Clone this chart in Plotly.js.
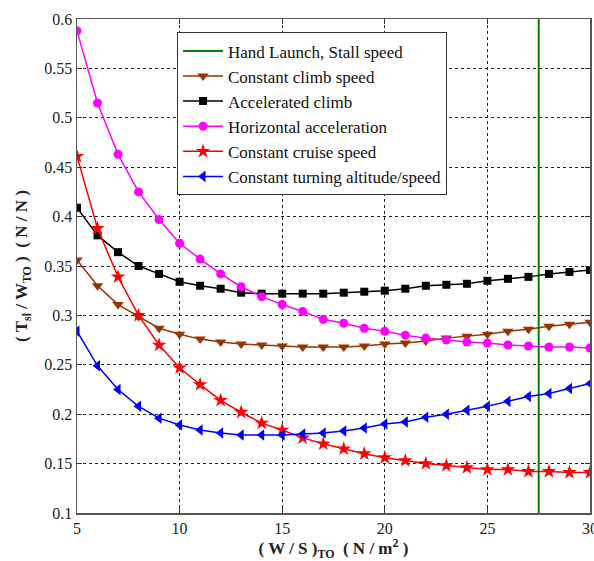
<!DOCTYPE html>
<html>
<head>
<meta charset="utf-8">
<script src="https://cdn.plot.ly/plotly-3.0.1.min.js"></script>
<style>html,body{margin:0;padding:0;background:#fff;}#chart{width:594px;height:561px;}</style>
</head>
<body>
<div id="chart"></div>
<script>
const wingLoading = [5,6,7,8,9,10,11,12,13,14,15,16,17,18,19,20,21,22,23,24,25,26,27,28,29,30];
const stallWingLoading = 27.5;
const stallRange = [0.1, 0.6];
const constantClimb = [0.356,0.330,0.311,0.299,0.287,0.281,0.276,0.273,0.271,0.270,0.269,0.268,0.268,0.268,0.269,0.271,0.272,0.274,0.277,0.279,0.281,0.284,0.286,0.289,0.291,0.293];
const acceleratedClimb = [0.409,0.381,0.364,0.350,0.342,0.334,0.330,0.327,0.323,0.322,0.322,0.322,0.322,0.323,0.324,0.325,0.327,0.330,0.331,0.332,0.335,0.337,0.339,0.342,0.344,0.346];
const horizontalAccel = [0.588,0.515,0.463,0.425,0.397,0.373,0.357,0.342,0.329,0.319,0.311,0.304,0.296,0.292,0.287,0.284,0.280,0.277,0.275,0.273,0.272,0.270,0.269,0.268,0.268,0.267];
const constantCruise = [0.461,0.388,0.339,0.300,0.270,0.247,0.230,0.214,0.202,0.191,0.184,0.176,0.170,0.165,0.160,0.156,0.153,0.150,0.148,0.146,0.144,0.144,0.142,0.142,0.141,0.141];
const constantTurning = [0.284,0.249,0.225,0.208,0.196,0.189,0.184,0.181,0.179,0.179,0.179,0.180,0.181,0.183,0.186,0.190,0.192,0.197,0.200,0.204,0.208,0.213,0.218,0.221,0.226,0.231];
const seriesNames = ["Hand Launch, Stall speed","Constant climb speed","Accelerated climb","Horizontal acceleration","Constant cruise speed","Constant turning altitude/speed"];
const xTicks = [5,10,15,20,25,30];
const yTicks = [0.1,0.15,0.2,0.25,0.3,0.35,0.4,0.45,0.5,0.55,0.6];
const yTickText = ['0.1','0.15','0.2','0.25','0.3','0.35','0.4','0.45','0.5','0.55','0.6'];

const lw = 1.5, ms = 9;
const traces = [
  {x:[stallWingLoading, stallWingLoading], y:stallRange, mode:'lines', name:seriesNames[0], line:{color:'#008000', width:2}},
  {x:wingLoading, y:constantClimb, mode:'lines+markers', name:seriesNames[1], line:{color:'#993300', width:lw}, marker:{symbol:'triangle-down', size:ms+1, color:'#993300'}},
  {x:wingLoading, y:acceleratedClimb, mode:'lines+markers', name:seriesNames[2], line:{color:'#000000', width:lw}, marker:{symbol:'square', size:ms-1, color:'#000000'}},
  {x:wingLoading, y:horizontalAccel, mode:'lines+markers', name:seriesNames[3], line:{color:'#ff00ff', width:lw}, marker:{symbol:'circle', size:ms, color:'#ff00ff'}},
  {x:wingLoading, y:constantCruise, mode:'lines+markers', name:seriesNames[4], line:{color:'#ff0000', width:lw}, marker:{symbol:'star', size:ms+2, color:'#ff0000'}},
  {x:wingLoading, y:constantTurning, mode:'lines+markers', name:seriesNames[5], line:{color:'#0000ff', width:lw}, marker:{symbol:'triangle-left', size:ms+1, color:'#0000ff'}}
];

const serif = 'Liberation Serif, Times New Roman, serif';
const layout = {
  width:594, height:561,
  margin:{l:77, r:4, t:19, b:48},
  paper_bgcolor:'#fff', plot_bgcolor:'#fff',
  font:{family:serif, size:16, color:'#222'},
  showlegend:true,
  legend:{x:0.195, y:0.973, xanchor:'left', yanchor:'top', bgcolor:'#fff', bordercolor:'#333', borderwidth:1, font:{family:serif, size:17, color:'#111'}, tracegroupgap:0, itemwidth:40},
  xaxis:{
    range:[5,30], tickvals:xTicks, ticks:'inside', ticklen:5, tickcolor:'#333', ticklabeloverflow:'allow',
    showline:true, linecolor:'#555', linewidth:1.5, mirror:'ticks',
    showgrid:true, gridcolor:'#222', griddash:'dot', gridwidth:1, zeroline:false,
    tickfont:{family:serif, size:16, color:'#222'},
    title:{text:'<b>( W / S )<sub>TO</sub>  ( N / m<sup>2</sup> )</b>', font:{family:serif, size:17, color:'#222'}, standoff:6}
  },
  yaxis:{
    range:[0.1,0.6], tickvals:yTicks, ticktext:yTickText,
    ticks:'inside', ticklen:5, tickcolor:'#333', ticklabeloverflow:'allow',
    showline:true, linecolor:'#555', linewidth:1.5, mirror:'ticks',
    showgrid:true, gridcolor:'#222', griddash:'dot', gridwidth:1, zeroline:false,
    tickfont:{family:serif, size:16, color:'#222'},
    title:{text:'<b>( T<sub>sl</sub> / W<sub>TO</sub> )  ( N / N )</b>', font:{family:serif, size:17, color:'#222'}, standoff:12}
  }
};
Plotly.newPlot('chart', traces, layout, {displayModeBar:false, staticPlot:true});
</script>
</body>
</html>
